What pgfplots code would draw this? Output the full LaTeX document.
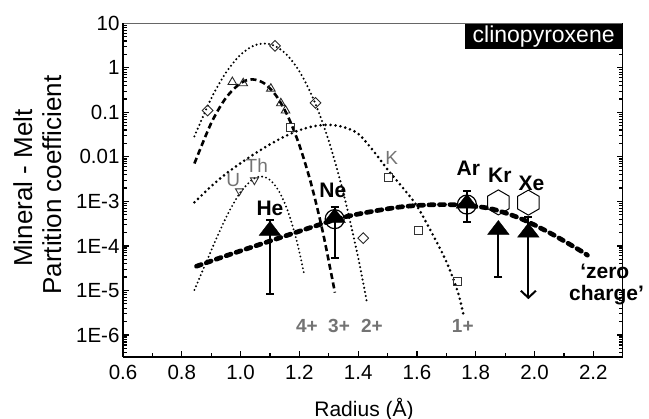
\documentclass[border=0pt]{standalone}
\usepackage{fontspec}
\setmainfont{Liberation Sans}
\usepackage{pgfplots}
\pgfplotsset{compat=1.18}
\usetikzlibrary{arrows.meta}
\definecolor{lbl}{gray}{0.45}
\pgfdeclareplotmark{hexagon}{%
  \pgfpathmoveto{\pgfpointpolar{90}{\pgfplotmarksize}}%
  \pgfpathlineto{\pgfpointpolar{150}{\pgfplotmarksize}}%
  \pgfpathlineto{\pgfpointpolar{210}{\pgfplotmarksize}}%
  \pgfpathlineto{\pgfpointpolar{270}{\pgfplotmarksize}}%
  \pgfpathlineto{\pgfpointpolar{330}{\pgfplotmarksize}}%
  \pgfpathlineto{\pgfpointpolar{30}{\pgfplotmarksize}}%
  \pgfpathclose\pgfusepathqstroke}
\begin{document}
\begin{tikzpicture}
\begin{axis}[
  at={(123bp,62.3bp)}, anchor=south west,
  scale only axis, width=499.7bp, height=333.4bp,
  xmin=0.6, xmax=2.3, ymode=log, ymin=3.26e-7, ymax=10,
  xtick={0.6,0.8,1.0,1.2,1.4,1.6,1.8,2.0,2.2},
  xticklabels={0.6,0.8,1.0,1.2,1.4,1.6,1.8,2.0,2.2},
  minor xtick={0.7,0.9,1.1,1.3,1.5,1.7,1.9,2.1,2.3},
  ytick={1e-6,1e-5,1e-4,1e-3,0.01,0.1,1,10},
  yticklabels={1E-6,1E-5,1E-4,1E-3,0.01,0.1,1,10},
  minor ytick={4e-7,5e-7,6e-7,7e-7,8e-7,9e-7,
    2e-6,3e-6,4e-6,5e-6,6e-6,7e-6,8e-6,9e-6,
    2e-5,3e-5,4e-5,5e-5,6e-5,7e-5,8e-5,9e-5,
    2e-4,3e-4,4e-4,5e-4,6e-4,7e-4,8e-4,9e-4,
    2e-3,3e-3,4e-3,5e-3,6e-3,7e-3,8e-3,9e-3,
    0.02,0.03,0.04,0.05,0.06,0.07,0.08,0.09,
    0.2,0.3,0.4,0.5,0.6,0.7,0.8,0.9,
    2,3,4,5,6,7,8,9},
  clip=false,
  axis line style={draw=none},
  tick style={black, line width=1.2bp},
  major tick length=6bp, minor tick length=3.5bp,
  tick align=inside,
  xtick pos=bottom, ytick pos=both, yticklabel pos=left,
  tick label style={font=\fontsize{20.5bp}{24bp}\selectfont},
  xticklabel style={yshift=-5bp},
  /pgf/number format/assume math mode=true,
]
% lattice strain curves
\addplot[black, line width=2.3bp, line cap=round, dash pattern=on 0bp off 4.2bp, smooth] coordinates {
(0.843,0.0289)(0.9,0.205)(0.95,0.776)(1.0,1.97)(1.05,3.26)(1.1,3.41)(1.15,2.19)(1.2,0.84)(1.25,0.185)(1.3,0.0229)(1.35,1.54e-3)(1.4,5.46e-5)(1.429,5.8e-6)};
\addplot[black, line width=2.6bp, dash pattern=on 6bp off 3.5bp, smooth] coordinates {
(0.843,7.1e-3)(0.9,0.0573)(0.95,0.211)(1.0,0.453)(1.04,0.55)(1.08,0.45)(1.12,0.242)(1.16,0.0841)(1.2,0.0184)(1.24,2.49e-3)(1.28,2.02e-4)(1.321,8.95e-6)};
\addplot[black, line width=2.1bp, line cap=round, dash pattern=on 0bp off 4bp, smooth] coordinates {
(0.843,1.03e-5)(0.88,3.85e-5)(0.92,1.59e-4)(0.96,5.78e-4)(1.0,1.62e-3)(1.04,3.09e-3)(1.07,3.63e-3)(1.1,3.04e-3)(1.13,1.72e-3)(1.16,6.27e-4)(1.19,1.39e-4)(1.217,2.24e-5)};
\addplot[black, line width=2.9bp, line cap=round, dash pattern=on 0bp off 5bp, smooth] coordinates {
(0.843,9.55e-4)(0.9,2.19e-3)(0.95,4.17e-3)(1.0,7.24e-3)(1.05,0.0120)(1.1,0.0191)(1.15,0.0288)(1.2,0.0398)(1.25,0.0490)(1.3,0.0525)(1.35,0.0468)(1.4,0.0331)(1.45,0.0141)(1.5,5.2e-3)(1.55,2.1e-3)(1.6,7.9e-4)(1.65,2.0e-4)(1.7,4.47e-5)(1.74,8.9e-6)(1.76,2.5e-6)};
% zero charge
\addplot[black, line width=4.7bp, line cap=round, dash pattern=on 5bp off 5.5bp, smooth] coordinates {
(0.85,3.5e-5)(0.95,6.0e-5)(1.05,1.0e-4)(1.15,1.66e-4)(1.25,2.75e-4)(1.35,4.4e-4)(1.45,6.0e-4)(1.55,7.6e-4)(1.65,8.4e-4)(1.75,8.3e-4)(1.85,6.9e-4)(1.95,4.2e-4)(2.05,2.0e-4)(2.15,8.3e-5)(2.18,6.2e-5)};
% data markers
\addplot[only marks, mark=square, mark size=3.8bp, mark options={rotate=45, line width=0.9bp, black!85, fill=white}] coordinates {
(0.888,0.11)(1.117,3.1)(1.255,0.163)(1.417,1.5e-4)};
\addplot[only marks, mark=triangle, mark size=5bp, mark options={line width=0.9bp, black!85, fill=white}] coordinates {
(0.972,0.48)(1.009,0.45)(1.103,0.34)(1.137,0.16)(1.153,0.11)};
\addplot[only marks, mark=square, mark size=4bp, mark options={line width=0.9bp, black!80, fill=white}] coordinates {
(1.171,0.046)(1.502,3.4e-3)(1.604,2.2e-4)(1.738,1.6e-5)};
\addplot[only marks, mark=triangle, mark size=4.5bp, mark options={rotate=180, line width=0.9bp, black!80, fill=white}] coordinates {
(0.996,1.71e-3)(1.047,3.0e-3)};
\addplot[only marks, mark=hexagon, mark size=12.5bp, mark options={line width=1bp, black}] coordinates {
(1.877,9.5e-4)(1.979,9.4e-4)};
\addplot[only marks, mark=o, mark size=9.5bp, mark options={line width=1.2bp, black}] coordinates {
(1.32,4.0e-4)(1.77,8.5e-4)};
% noble gases
\addplot[only marks, mark=triangle*, mark size=12.5bp, black, mark options={yscale=0.75},
  error bars/.cd, y dir=both, y explicit,
  error bar style={line width=2bp, black},
  error mark options={line width=2bp, mark size=4bp, rotate=90, black}] coordinates {
(1.10,2.2e-4) += (0,1.6e-4) -= (0,2.115e-4)
(1.32,4.3e-4) += (0,3.1e-4) -= (0,3.75e-4)
(1.77,9e-4) += (0,8e-4) -= (0,5.6e-4)
(1.877,2.3e-4) += (0,0) -= (0,2.1e-4)
(1.979,2.0e-4) += (0,2.4e-4) -= (0,0)};
\addplot[black, line width=2bp, -{Straight Barb[length=7bp,width=15bp]}] coordinates {(1.979,2.0e-4)(1.979,6.4e-6)};
% labels
\node[font=\bfseries\fontsize{21bp}{24bp}\selectfont] at (axis cs:1.1,7.1e-4) {He};
\node[font=\bfseries\fontsize{21bp}{24bp}\selectfont] at (axis cs:1.314,1.8e-3) {Ne};
\node[font=\bfseries\fontsize{21bp}{24bp}\selectfont] at (axis cs:1.775,5.5e-3) {Ar};
\node[font=\bfseries\fontsize{21bp}{24bp}\selectfont] at (axis cs:1.882,3.9e-3) {Kr};
\node[font=\bfseries\fontsize{21bp}{24bp}\selectfont] at (axis cs:1.99,2.55e-3) {Xe};
\node[text=lbl, font=\fontsize{19bp}{22bp}\selectfont] at (axis cs:0.975,3.0e-3) {U};
\node[text=lbl, font=\fontsize{19bp}{22bp}\selectfont] at (axis cs:1.055,6.3e-3) {Th};
\node[text=lbl, font=\fontsize{19bp}{22bp}\selectfont] at (axis cs:1.514,9.3e-3) {K};
\node[text=lbl, font=\bfseries\fontsize{19bp}{22bp}\selectfont] at (axis cs:1.226,1.6e-6) {4+};
\node[text=lbl, font=\bfseries\fontsize{19bp}{22bp}\selectfont] at (axis cs:1.335,1.6e-6) {3+};
\node[text=lbl, font=\bfseries\fontsize{19bp}{22bp}\selectfont] at (axis cs:1.447,1.6e-6) {2+};
\node[text=lbl, font=\bfseries\fontsize{19bp}{22bp}\selectfont] at (axis cs:1.756,1.6e-6) {1+};
\node[font=\bfseries\fontsize{21bp}{24bp}\selectfont] at (axis cs:2.239,2.64e-5) {‘zero};
\node[font=\bfseries\fontsize{21bp}{24bp}\selectfont] at (axis cs:2.245,7.9e-6) {charge’};
\node[anchor=north east, fill=black, text=white, font=\fontsize{23bp}{26bp}\selectfont,
  inner xsep=2bp, inner ysep=1bp, minimum width=157.7bp, minimum height=26bp] at (rel axis cs:1,1) {clinopyroxene};
% axis lines
\draw[line width=1bp, black!60] (rel axis cs:0,1) -- (rel axis cs:1,1);
\draw[line width=1.3bp] (rel axis cs:1,0) -- (rel axis cs:1,1);
\draw[line width=2bp] (rel axis cs:0,0) -- (rel axis cs:1,0);
\draw[line width=2bp] (rel axis cs:0,0) -- (rel axis cs:0,1);
\end{axis}
\node[font=\fontsize{21bp}{24bp}\selectfont, anchor=base] at (364bp,3bp) {Radius (Å)};
\node[rotate=90, anchor=base, font=\fontsize{26bp}{29bp}\selectfont] at (32bp,231bp) {Mineral - Melt};
\node[rotate=90, anchor=base, font=\fontsize{26bp}{29bp}\selectfont] at (61bp,234bp) {Partition coefficient};
\pgfresetboundingbox
\path (0,0) rectangle (649bp,419bp);
\end{tikzpicture}
\end{document}
